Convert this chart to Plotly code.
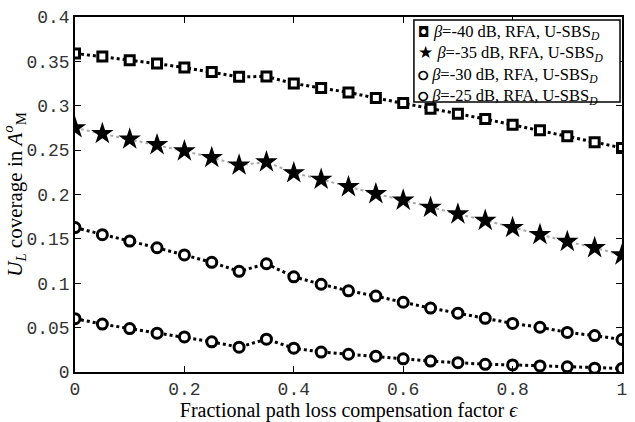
import plotly.graph_objects as go

eps = [round(0.05 * i, 2) for i in range(21)]

beta40 = [0.359, 0.3554, 0.3514, 0.3475, 0.343, 0.338, 0.3326, 0.333, 0.325, 0.320, 0.315,
          0.3087, 0.303, 0.2967, 0.291, 0.285, 0.2786, 0.2725, 0.2656, 0.259, 0.2525]
beta35 = [0.275, 0.2685, 0.2623, 0.256, 0.249, 0.2416, 0.233, 0.2366, 0.2243, 0.217, 0.2087,
          0.2008, 0.1935, 0.1855, 0.178, 0.1707, 0.1627, 0.1547, 0.147, 0.140, 0.1318]
beta30 = [0.1627, 0.1547, 0.1475, 0.140, 0.1319, 0.1236, 0.1134, 0.122, 0.1072, 0.0989, 0.0915,
          0.0855, 0.0786, 0.072, 0.0663, 0.0605, 0.0547, 0.0504, 0.0446, 0.041, 0.0366]
beta25 = [0.0601, 0.054, 0.0489, 0.0438, 0.0395, 0.034, 0.028, 0.037, 0.0268, 0.0225, 0.020,
          0.0178, 0.0149, 0.0123, 0.0105, 0.0087, 0.008, 0.0069, 0.0058, 0.0043, 0.004]

names = ["<i>β</i>=-40 dB, RFA, U-SBS<sub><i>D</i></sub>",
         "<i>β</i>=-35 dB, RFA, U-SBS<sub><i>D</i></sub>",
         "<i>β</i>=-30 dB, RFA, U-SBS<sub><i>D</i></sub>",
         "<i>β</i>=-25 dB, RFA, U-SBS<sub><i>D</i></sub>"]

xticks = [0, 0.2, 0.4, 0.6, 0.8, 1]
xticklabels = ["0", "0.2", "0.4", "0.6", "0.8", "1"]
yticks = [0, 0.05, 0.1, 0.15, 0.2, 0.25, 0.3, 0.35, 0.4]
yticklabels = ["0", "0.05", "0.1", "0.15", "0.2", "0.25", "0.3", "0.35", "0.4"]

series = [beta40, beta35, beta30, beta25]
line_styles = [dict(color="black", width=3, dash="dot"),
               dict(color="#aaaaaa", width=2, dash="dot"),
               dict(color="black", width=3, dash="dot"),
               dict(color="black", width=3, dash="dot")]
marker_styles = [dict(symbol="square", size=9, color="white", line=dict(color="black", width=3)),
                 dict(symbol="star", size=17, color="black", line=dict(color="black", width=0)),
                 dict(symbol="circle", size=10, color="white", line=dict(color="black", width=3)),
                 dict(symbol="circle", size=10, color="white", line=dict(color="black", width=3))]

fig = go.Figure()
for ys, nm, ls, ms in zip(series, names, line_styles, marker_styles):
    fig.add_trace(go.Scatter(x=eps, y=ys, name=nm, mode="lines+markers",
                             line=ls, marker=ms, showlegend=False))

# custom compact legend (MATLAB style): one multi-line text block inside a box
fig.add_shape(type="rect", xref="paper", yref="paper", x0=0.6196, x1=0.9964, y0=0.7609, y1=0.9918,
              line=dict(color="black", width=1.5), fillcolor="white", layer="above")
glyphs = [("◘", 14), ("★", 17), ("⭘", 13), ("⭘", 13)]
rows = [f"<span style='font-family:DejaVu Sans;font-weight:bold;font-size:{g[1]}px'>{g[0]}</span> {nm}"
        for g, nm in zip(glyphs, names)]
fig.add_annotation(x=0.6233, y=0.9918, xref="paper", yref="paper",
                   text="<br>".join(rows), align="left",
                   showarrow=False, xanchor="left", yanchor="top",
                   font=dict(family="Liberation Serif", size=16.5, color="black"))

tickfont = dict(family="Liberation Mono", size=18, color="#333333")
fig.update_layout(
    width=635, height=422,
    margin=dict(l=75, r=8, t=15, b=39),
    paper_bgcolor="white", plot_bgcolor="white",
    font=dict(family="Liberation Serif", color="black"),
    showlegend=False,
    xaxis=dict(range=[0, 1], tickvals=xticks, ticktext=xticklabels,
               showline=True, linecolor="black", linewidth=1.5, mirror="ticks",
               ticks="inside", ticklen=6, tickcolor="black", showgrid=False,
               zeroline=False, tickfont=tickfont,
               title=dict(text="Fractional path loss compensation factor <i>ϵ</i>",
                          font=dict(family="Liberation Serif", size=20), standoff=0)),
    yaxis=dict(range=[0, 0.4], tickvals=yticks, ticktext=yticklabels,
               showline=True, linecolor="black", linewidth=1.5, mirror="ticks",
               ticks="inside", ticklen=6, tickcolor="black", showgrid=False,
               zeroline=False, tickfont=tickfont,
               title=dict(text="<i>U</i><sub><i>L</i></sub> coverage in <i>A</i><sup><i>o</i></sup><sub>M</sub>",
                          font=dict(family="Liberation Serif", size=21), standoff=2)),
)
fig.write_html("out.html")
